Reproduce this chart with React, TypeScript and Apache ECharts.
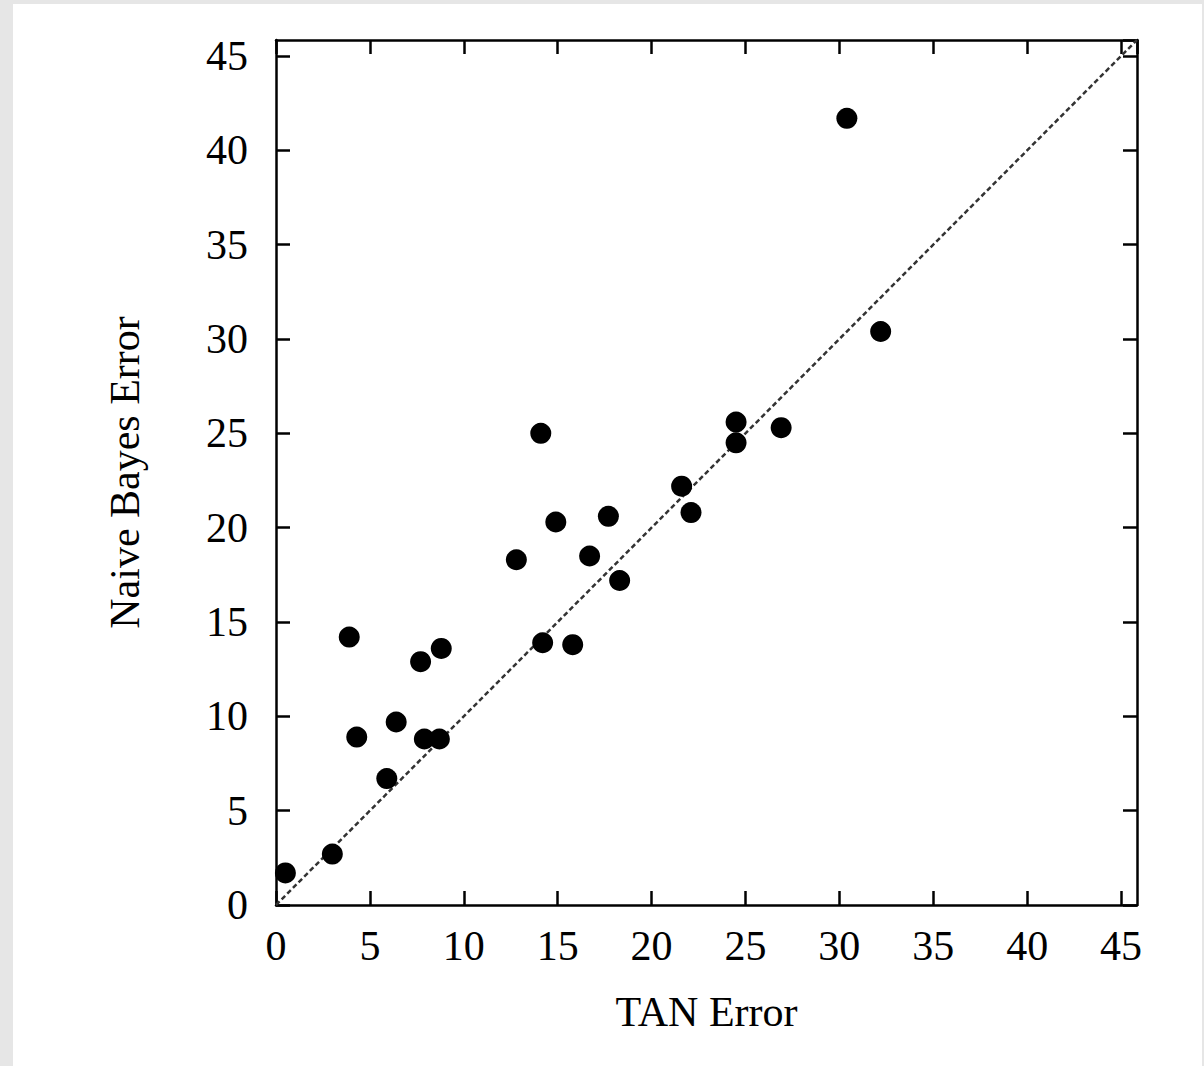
import React, { useEffect, useRef } from "react";
import * as echarts from "echarts";

const tanError = [0.5, 3.0, 3.9, 4.3, 5.9, 6.4, 7.7, 8.8, 7.9, 8.7, 12.8, 14.1, 14.2, 14.9, 15.8, 16.7, 17.7, 18.3, 21.6, 22.1, 24.5, 24.5, 26.9, 30.4, 32.2];
const nbError = [1.7, 2.7, 14.2, 8.9, 6.7, 9.7, 12.9, 13.6, 8.8, 8.8, 18.3, 25.0, 13.9, 20.3, 13.8, 18.5, 20.6, 17.2, 22.2, 20.8, 25.6, 24.5, 25.3, 41.7, 30.4];
const axisMax = 45.85;
const diagonal = [0, axisMax];
const xTitle = "TAN Error";
const yTitle = "Naive Bayes Error";

const FONT = "'Liberation Serif', 'DejaVu Serif', serif";

export default function App() {
  const ref = useRef<HTMLDivElement>(null);
  useEffect(() => {
    if (!ref.current) return;
    const chart = echarts.init(ref.current, null, { renderer: "svg" });
    const lineStyle = { color: "#000", width: 2.5 };
    const tick = { show: true, inside: true, length: 14, lineStyle: { color: "#000", width: 2.5 } };
    const labelFmt = (v: number) => (Math.abs(v % 5) < 1e-9 ? String(v) : "");
    const base = { type: "value" as const, min: 0, max: axisMax, interval: 5, splitLine: { show: false } };
    chart.setOption({
      animation: false,
      backgroundColor: "transparent",
      grid: { left: 276, top: 40, width: 861, height: 865, containLabel: false },
      xAxis: [
        {
          ...base,
          position: "bottom",
          axisLine: { show: true, onZero: false, lineStyle },
          axisTick: tick,
          axisLabel: { show: true, margin: 20, fontSize: 42, fontFamily: FONT, color: "#000", formatter: labelFmt, showMaxLabel: false },
          name: xTitle,
          nameLocation: "middle",
          nameGap: 86,
          nameTextStyle: { fontSize: 42, fontFamily: FONT, color: "#000" },
        },
        {
          ...base,
          position: "top",
          axisLine: { show: true, onZero: false, lineStyle },
          axisTick: tick,
          axisLabel: { show: false },
        },
      ],
      yAxis: [
        {
          ...base,
          position: "left",
          axisLine: { show: true, onZero: false, lineStyle },
          axisTick: tick,
          axisLabel: { show: true, margin: 28, fontSize: 42, fontFamily: FONT, color: "#000", formatter: labelFmt, showMaxLabel: false },
          name: yTitle,
          nameLocation: "middle",
          nameGap: 130,
          nameRotate: 90,
          nameTextStyle: { fontSize: 42, fontFamily: FONT, color: "#000" },
        },
        {
          ...base,
          position: "right",
          axisLine: { show: true, onZero: false, lineStyle },
          axisTick: tick,
          axisLabel: { show: false },
        },
      ],
      series: [
        {
          type: "line",
          xAxisIndex: 0,
          yAxisIndex: 0,
          data: diagonal.map((v) => [v, v]),
          symbol: "none",
          silent: true,
          lineStyle: { color: "#333", width: 2.5, type: [5, 3] },
          z: 1,
        },
        {
          type: "scatter",
          xAxisIndex: 0,
          yAxisIndex: 0,
          data: tanError.map((x, i) => [x, nbError[i]]),
          symbol: "circle",
          symbolSize: 21,
          itemStyle: { color: "#000", opacity: 1 },
          z: 2,
        },
      ],
    });
    return () => chart.dispose();
  }, []);
  return (
    <div style={{ position: "absolute", left: 0, top: 0, width: 1204, height: 1066, background: "#e6e6e6", overflow: "hidden" }}>
      <div style={{ position: "absolute", left: 13, top: 4, width: 1189, height: 1062, background: "#fff" }} />
      <div ref={ref} style={{ position: "absolute", left: 0, top: 0, width: 1204, height: 1066 }} />
    </div>
  );
}
